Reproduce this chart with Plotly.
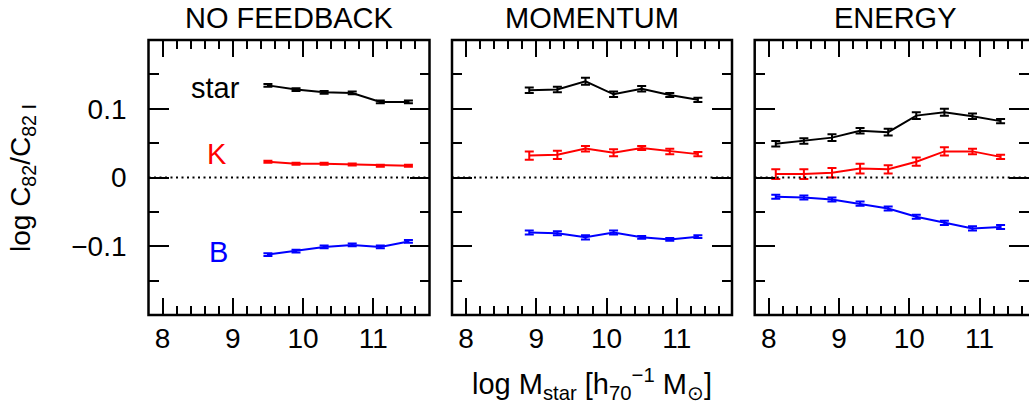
import plotly.graph_objects as go

# ---------------- data ----------------
panel_titles = ["NO FEEDBACK", "MOMENTUM", "ENERGY"]

x_nofb = [9.5, 9.9, 10.3, 10.7, 11.1, 11.5]
star_nofb = [0.134, 0.128, 0.124, 0.123, 0.110, 0.110]
star_nofb_err = [0.002, 0.002, 0.002, 0.002, 0.002, 0.002]
K_nofb = [0.023, 0.020, 0.020, 0.019, 0.017, 0.017]
K_nofb_err = [0.0015, 0.0015, 0.0015, 0.0015, 0.0015, 0.0015]
B_nofb = [-0.112, -0.107, -0.101, -0.098, -0.101, -0.093]
B_nofb_err = [0.002, 0.002, 0.002, 0.002, 0.002, 0.002]

x_mom = [8.9, 9.3, 9.7, 10.1, 10.5, 10.9, 11.3]
star_mom = [0.127, 0.128, 0.140, 0.121, 0.129, 0.120, 0.113]
star_mom_err = [0.004, 0.004, 0.005, 0.004, 0.004, 0.003, 0.003]
K_mom = [0.032, 0.033, 0.042, 0.036, 0.043, 0.038, 0.034]
K_mom_err = [0.006, 0.006, 0.004, 0.005, 0.003, 0.004, 0.003]
B_mom = [-0.080, -0.081, -0.087, -0.080, -0.087, -0.090, -0.086]
B_mom_err = [0.003, 0.003, 0.003, 0.003, 0.002, 0.002, 0.002]

x_en = [8.1, 8.5, 8.9, 9.3, 9.7, 10.1, 10.5, 10.9, 11.3]
star_en = [0.049, 0.053, 0.058, 0.068, 0.066, 0.090, 0.095, 0.089, 0.082]
star_en_err = [0.004, 0.004, 0.005, 0.004, 0.005, 0.005, 0.005, 0.004, 0.003]
K_en = [0.005, 0.005, 0.007, 0.013, 0.012, 0.023, 0.038, 0.038, 0.030]
K_en_err = [0.007, 0.007, 0.007, 0.007, 0.006, 0.006, 0.006, 0.004, 0.003]
B_en = [-0.028, -0.029, -0.032, -0.038, -0.045, -0.057, -0.066, -0.074, -0.072]
B_en_err = [0.003, 0.003, 0.003, 0.003, 0.003, 0.003, 0.003, 0.003, 0.003]

x_tickvals = [8, 9, 10, 11]
x_ticktext = ["8", "9", "10", "11"]
y_tickvals = [-0.1, 0, 0.1]
y_ticktext = ["\u22120.1", "0", "0.1"]
band_labels = ["star", "K", "B"]
colors = ["#000000", "#ff0000", "#0000ff"]

# ---------------- figure ----------------
W, H = 1029, 412
FONT = "Liberation Sans, Arial, Helvetica, sans-serif"

fig = go.Figure()

panels = [
    (x_nofb, [(star_nofb, star_nofb_err), (K_nofb, K_nofb_err), (B_nofb, B_nofb_err)]),
    (x_mom, [(star_mom, star_mom_err), (K_mom, K_mom_err), (B_mom, B_mom_err)]),
    (x_en, [(star_en, star_en_err), (K_en, K_en_err), (B_en, B_en_err)]),
]

# panel pixel geometry
px_left = [148.5, 452.0, 754.7]
px_right = [429.5, 732.0, 1035.7]
top_px, bot_px = 40.0, 315.0
ppu = 70.25  # pixels per x unit
xmin = 7.8

for i, (xs, series) in enumerate(panels):
    suffix = "" if i == 0 else str(i + 1)
    for (ys, es), col in zip(series, colors):
        fig.add_trace(go.Scatter(
            x=xs, y=ys, mode="lines",
            line=dict(color=col, width=2),
            error_y=dict(type="data", array=es, visible=True,
                         color=col, thickness=2, width=4.5),
            xaxis="x" + suffix, yaxis="y" + suffix, showlegend=False,
            hoverinfo="skip",
        ))

minor_x = [round(7.8 + 0.2 * k, 1) for k in range(21)]
minor_x = [v for v in minor_x if abs(v - round(v)) > 1e-6]
minor_y = [-0.15, -0.05, 0.05, 0.15]

ydom = [(H - bot_px) / H, (H - top_px) / H]
layout = dict(
    width=W, height=H,
    margin=dict(l=0, r=0, t=0, b=0),
    paper_bgcolor="white", plot_bgcolor="white",
    font=dict(family=FONT, color="black", size=28),
    showlegend=False,
)
shapes = []
annotations = []
for i in range(3):
    suffix = "" if i == 0 else str(i + 1)
    x0p = px_left[i] / W
    x1p = min(px_right[i], W) / W
    xmax = xmin + (min(px_right[i], W) - px_left[i]) / ppu
    layout["xaxis" + suffix] = dict(
        domain=[x0p, x1p], range=[xmin, xmax], anchor="y" + suffix,
        showline=False, mirror="ticks", ticks="inside", ticklen=17, tickwidth=2,
        tickcolor="black", tickvals=x_tickvals, ticktext=x_ticktext,
        minor=dict(tickvals=minor_x, ticks="inside", ticklen=9, tickwidth=2, tickcolor="black"),
        showgrid=False, zeroline=False, tickfont=dict(size=28, family=FONT),
        ticklabelstandoff=4,
    )
    layout["yaxis" + suffix] = dict(
        domain=ydom, range=[-0.2, 0.2], anchor="x" + suffix,
        showline=False, mirror="ticks", ticks="inside", ticklen=20, tickwidth=2,
        tickcolor="black", tickvals=y_tickvals, ticktext=y_ticktext,
        showticklabels=(i == 0),
        minor=dict(tickvals=minor_y, ticks="inside", ticklen=10, tickwidth=2, tickcolor="black"),
        showgrid=False, zeroline=False, tickfont=dict(size=28, family=FONT),
        ticklabelstandoff=21,
    )
    # frame
    shapes.append(dict(type="rect", xref="paper", yref="paper",
                       x0=px_left[i] / W, x1=px_right[i] / W, y0=ydom[0], y1=ydom[1],
                       line=dict(color="black", width=2.5), layer="above"))
    # dotted zero line
    shapes.append(dict(type="line", xref="x" + suffix + " domain", yref="y" + suffix,
                       x0=0, x1=1, y0=0, y1=0,
                       line=dict(color="black", width=2, dash="2px,3.5px")))
    # panel title
    annotations.append(dict(text=panel_titles[i], xref="paper", yref="paper",
                            x=(px_left[i] + px_right[i]) / 2 / W, y=(H - 18) / H,
                            xanchor="center", yanchor="middle", showarrow=False,
                            font=dict(size=29, family=FONT)))

# band labels in first panel
label_pos = [(8.75, 0.130), (8.78, 0.034), (8.79, -0.108)]
for lab, (lx, ly), col in zip(band_labels, label_pos, colors):
    annotations.append(dict(text=lab, x=lx, y=ly, xref="x", yref="y",
                            xanchor="center", yanchor="middle", showarrow=False,
                            font=dict(size=29, color=col, family=FONT)))

# axis titles
annotations.append(dict(
    text="log M<sub>star</sub> [h<sub>70</sub><sup>\u22121</sup> M<sub>\u2299</sub>]",
    xref="paper", yref="paper", x=592 / W, y=(H - 384) / H,
    xanchor="center", yanchor="middle", showarrow=False, font=dict(size=29, family=FONT)))
annotations.append(dict(
    text="log C<sub>82</sub>/C<sub>82 I</sub>",
    xref="paper", yref="paper", x=22 / W, y=(H - 178) / H, textangle=-90,
    xanchor="center", yanchor="middle", showarrow=False, font=dict(size=28, family=FONT)))

layout["shapes"] = shapes
layout["annotations"] = annotations
layout["hovermode"] = False
fig.update_layout(**layout)

fig.write_html("out.html",
               config={"displayModeBar": False, "staticPlot": True},
               post_script="document.body.style.margin='0px';document.body.style.overflow='hidden';")
